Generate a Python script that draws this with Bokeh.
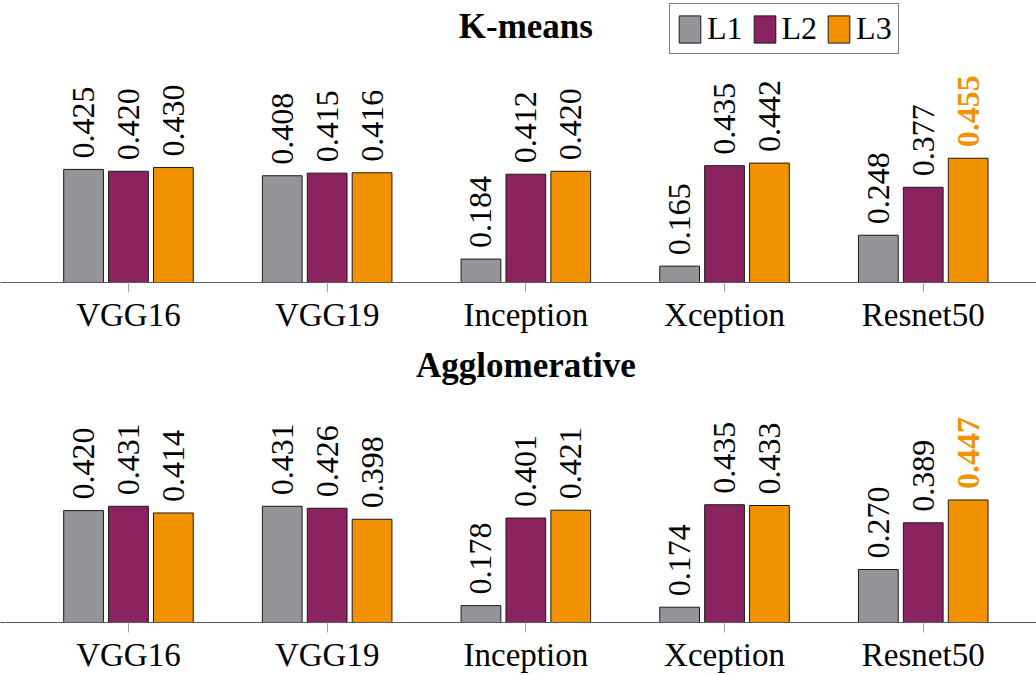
import numpy as np
from bokeh.plotting import figure
from bokeh.layouts import column
from bokeh.models import (ColumnDataSource, Range1d, FixedTicker, Legend, LegendItem, Label)
from bokeh.core.properties import value
from bokeh.embed import file_html
from bokeh.resources import INLINE

# ---------------- data ----------------
models = ["VGG16", "VGG19", "Inception", "Xception", "Resnet50"]
series = ["L1", "L2", "L3"]
kmeans_L1 = [0.425, 0.408, 0.184, 0.165, 0.248]
kmeans_L2 = [0.420, 0.415, 0.412, 0.435, 0.377]
kmeans_L3 = [0.430, 0.416, 0.420, 0.442, 0.455]
agglo_L1 = [0.420, 0.431, 0.178, 0.174, 0.270]
agglo_L2 = [0.431, 0.426, 0.401, 0.435, 0.389]
agglo_L3 = [0.414, 0.398, 0.421, 0.433, 0.447]
colors = ["#939598", "#8C2361", "#F39200"]

FONT = "Liberation Serif"
W = 1036
offsets = [-0.226, 0.0, 0.226]
BAR_W = 0.2


def panel(title, data, height, frame_h, ymin, px_per_unit, title_y, legend=False):
    ymax = ymin + frame_h / px_per_unit
    p = figure(width=W, height=height, output_backend="svg", toolbar_location=None,
               x_range=Range1d(-0.644, 4.570), y_range=Range1d(ymin, ymax),
               y_axis_location=None, min_border_left=0, min_border_right=0,
               min_border_top=0, min_border_bottom=height - frame_h)
    p.outline_line_color = None
    p.xgrid.visible = False
    p.ygrid.visible = False
    p.background_fill_color = None
    p.border_fill_color = None

    renderers = []
    for k, vals in enumerate(data):
        xs = np.arange(len(models)) + offsets[k]
        hl = [(k == 2 and i == len(models) - 1) for i in range(len(vals))]
        src = ColumnDataSource(dict(
            x=xs, top=vals, text=["%.3f" % v for v in vals],
            color=[colors[2] if h else "black" for h in hl],
            style=["bold" if h else "normal" for h in hl],
        ))
        r = p.vbar(x="x", top="top", bottom=ymin - 1, width=BAR_W, source=src,
                   fill_color=colors[k], line_color="#1a1a1a", line_width=1)
        renderers.append(r)
        p.text(x="x", y="top", text="text", source=src, angle=np.pi / 2,
               text_align="left", text_baseline="middle", y_offset=-11,
               text_font=value(FONT), text_font_size="32px",
               text_color="color", text_font_style="style")

    ax = p.xaxis[0]
    ax.ticker = FixedTicker(ticks=list(range(len(models))))
    ax.major_label_overrides = {i: m for i, m in enumerate(models)}
    ax.axis_line_color = "#5a5a5a"
    ax.axis_line_width = 1
    ax.major_tick_line_color = "#a0a0a0"
    ax.major_tick_in = 0
    ax.major_tick_out = 10
    ax.minor_tick_line_color = None
    ax.major_label_standoff = 4
    ax.major_label_text_font = FONT
    ax.major_label_text_font_size = "33px"
    ax.major_label_text_color = "black"

    p.add_layout(Label(x=2, y=title_y, text=title, text_align="center",
                       text_baseline="alphabetic", text_font=FONT,
                       text_font_size="35px", text_font_style="bold",
                       text_color="black"))

    if legend:
        lg = Legend(items=[LegendItem(label=s, renderers=[r]) for s, r in zip(series, renderers)],
                    orientation="horizontal", location=(669, frame_h - 54),
                    label_text_font=FONT, label_text_font_size="32px",
                    label_text_color="black",
                    border_line_color="black", border_line_width=1,
                    background_fill_color="white", background_fill_alpha=1.0,
                    padding=6, spacing=8, glyph_width=27, glyph_height=34,
                    label_standoff=4, margin=0)
        p.add_layout(lg, "center")
    return p


# top panel: frame 0..282, bottom panel frame 345..623
ymin_k = 0.121
ymin_a = 0.135
H1 = 345
p1 = panel("K-means", [kmeans_L1, kmeans_L2, kmeans_L3], H1, 282, ymin_k, 372.0,
           ymin_k + (282 - 26) / 372.0, legend=True)
p2 = panel("Agglomerative", [agglo_L1, agglo_L2, agglo_L3], 675 - H1, 623 - H1, ymin_a, 394.0,
           ymin_a + (623 - 365) / 394.0)

layout = column(p1, p2, spacing=0)
open("out.html", "w").write(file_html(layout, INLINE))
